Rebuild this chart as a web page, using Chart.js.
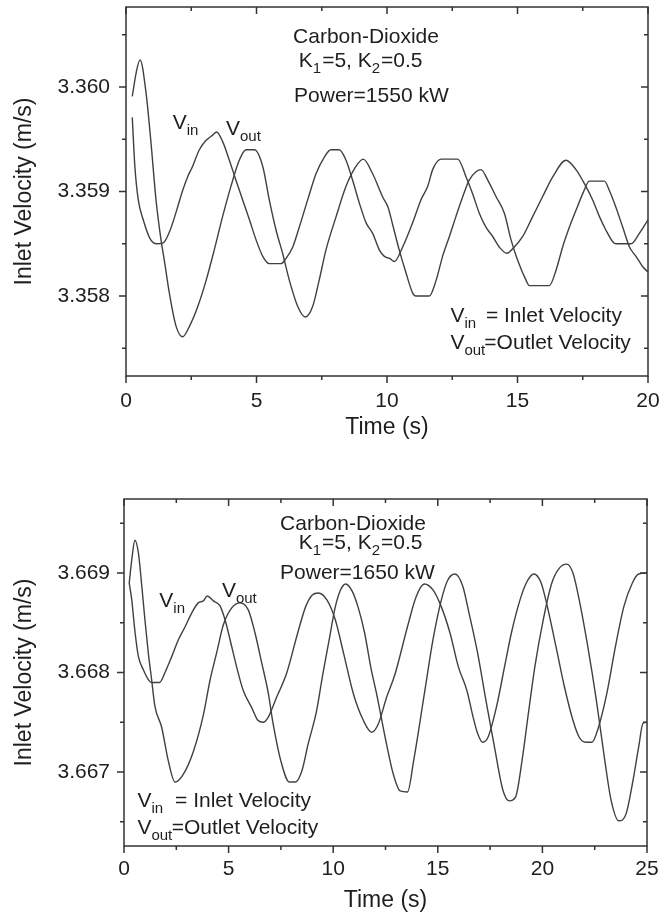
<!DOCTYPE html>
<html>
<head>
<meta charset="utf-8">
<script src="https://cdn.jsdelivr.net/npm/chart.js@4.4.1/dist/chart.umd.min.js"></script>
<style>
  html, body { margin: 0; padding: 0; background: #fff; }
  #wrap { position: relative; width: 665px; height: 918px; }
  canvas { position: absolute; left: 0; }
  #c1 { top: 0; }
  #c2 { top: 460px; }
</style>
</head>
<body>
<div id="wrap">
  <canvas id="c1" width="665" height="460"></canvas>
  <canvas id="c2" width="665" height="458"></canvas>
</div>
<script>
// ---- upper panel: Power = 1550 kW ----
const timeVinA = [0.24, 0.34, 0.47, 0.66, 0.92, 1.18, 1.43, 1.69, 1.94, 2.17, 2.36, 2.55, 2.81, 3.07, 3.32,
  3.47, 3.7, 3.96, 4.21, 4.47, 4.73, 4.98, 5.24, 5.49, 5.94, 6.13, 6.39, 6.64, 6.96, 7.28,
  7.6, 7.85, 8.17, 8.43, 8.68, 8.94, 9.2, 9.45, 9.71, 9.9, 10.1, 10.28, 10.6, 10.98, 11.3,
  11.56, 11.75, 12.07, 12.71, 13.03, 13.28, 13.54, 13.79, 14.05, 14.3, 14.59, 14.88, 15.2, 15.58, 15.96,
  16.35, 16.86, 17.24, 17.62, 17.88, 18.14, 18.39, 18.65, 18.77, 19.35, 19.67, 20.0];
const vinA = [3.35971, 3.35924, 3.35892, 3.35873, 3.35855, 3.3585, 3.35851, 3.35863, 3.35882, 3.35901,
  3.35914, 3.35924, 3.3594, 3.35949, 3.35954, 3.35957, 3.35948, 3.3593, 3.35911, 3.35892,
  3.35873, 3.35854, 3.35838, 3.35831, 3.35831, 3.35836, 3.35847, 3.35866, 3.35892, 3.35917,
  3.35933, 3.3594, 3.3594, 3.3593, 3.35911, 3.35889, 3.3587, 3.3586, 3.35844, 3.35838,
  3.35836, 3.35833, 3.35847, 3.3587, 3.35892, 3.35905, 3.35921, 3.35931, 3.35931, 3.35914,
  3.35898, 3.35879, 3.35866, 3.35857, 3.35847, 3.35841, 3.35847, 3.35857, 3.35876, 3.35895,
  3.35914, 3.3593, 3.35921, 3.35905, 3.35892, 3.35876, 3.35863, 3.35852, 3.3585, 3.3585,
  3.3586, 3.35873];
const timeVoutA = [0.24, 0.4, 0.54, 0.77, 0.96, 1.15, 1.34, 1.47, 1.66, 1.92, 2.17, 2.43, 2.75, 3.07, 3.38,
  3.7, 4.02, 4.34, 4.6, 4.92, 5.24, 5.49, 5.75, 6.0, 6.26, 6.58, 6.87, 7.15, 7.4, 7.66,
  8.05, 8.43, 8.81, 9.09, 9.45, 9.83, 10.04, 10.22, 10.47, 10.73, 10.98, 11.11, 11.62, 11.88, 12.13,
  12.39, 12.64, 12.9, 13.15, 13.41, 13.6, 13.86, 14.18, 14.5, 14.75, 15.01, 15.33, 15.45, 16.22, 16.48,
  16.73, 16.99, 17.24, 17.5, 17.75, 18.33, 18.52, 18.77, 19.03, 19.29, 19.54, 19.8, 20.0];
const voutA = [3.35991, 3.36015, 3.36026, 3.35994, 3.35946, 3.35892, 3.35854, 3.35834, 3.35803, 3.35771,
  3.35761, 3.35771, 3.3579, 3.35815, 3.35844, 3.35876, 3.35905, 3.3593, 3.3594, 3.3594,
  3.35924, 3.35892, 3.35863, 3.35841, 3.35815, 3.3579, 3.3578, 3.3579, 3.35815, 3.35844,
  3.35876, 3.35905, 3.35924, 3.35931, 3.35917, 3.35895, 3.35885, 3.35868, 3.35844, 3.35822,
  3.35803, 3.358, 3.358, 3.35815, 3.35838, 3.35857, 3.35876, 3.35895, 3.35911, 3.35919,
  3.35921, 3.35911, 3.35895, 3.35879, 3.35854, 3.35834, 3.35815, 3.3581, 3.3581, 3.35825,
  3.35847, 3.35866, 3.35882, 3.35898, 3.3591, 3.3591, 3.35901, 3.35885, 3.35866, 3.35847,
  3.35838, 3.35828, 3.35823];
const xTicksA = [0, 5, 10, 15, 20];
const xMinorA = [2.5, 7.5, 12.5, 17.5];
const yTicksA = [3.358, 3.359, 3.360];
const yMinorA = [3.3575, 3.3585, 3.3595, 3.3605];

// ---- lower panel: Power = 1650 kW ----
const timeVinB = [0.25, 0.37, 0.53, 0.69, 0.92, 1.16, 1.3, 1.7, 1.96, 2.28, 2.6, 2.92, 3.24, 3.55, 3.79,
  3.98, 4.27, 4.59, 4.83, 5.07, 5.38, 5.7, 6.1, 6.4, 6.65, 6.89, 7.29, 7.77, 8.28, 8.68,
  9.0, 9.29, 9.7, 10.1, 10.5, 10.96, 11.44, 11.84, 12.15, 12.55, 12.95, 13.55, 13.96, 14.36, 14.77,
  15.17, 15.58, 15.98, 16.39, 16.69, 16.9, 17.14, 17.4, 17.81, 18.22, 18.52, 18.93, 19.23, 19.59, 19.94,
  20.24, 20.65, 21.05, 21.46, 21.76, 22.07, 22.37, 22.68, 23.08, 23.49, 23.89, 24.3, 24.6, 25.0];
const vinB = [3.6689, 3.66873, 3.6684, 3.66816, 3.66803, 3.66793, 3.6679, 3.6679, 3.668, 3.66816,
  3.66833, 3.66846, 3.6686, 3.6687, 3.66872, 3.66877, 3.66872, 3.66867, 3.66853, 3.66833,
  3.66806, 3.66782, 3.66765, 3.66752, 3.6675, 3.66755, 3.66775, 3.66799, 3.66838, 3.66866,
  3.66878, 3.6688, 3.66873, 3.66853, 3.66819, 3.66779, 3.66752, 3.6674, 3.66748, 3.66775,
  3.66798, 3.66846, 3.66876, 3.66889, 3.66883, 3.66866, 3.6684, 3.66806, 3.66782, 3.66755,
  3.66739, 3.6673, 3.66735, 3.66766, 3.66809, 3.6684, 3.66873, 3.6689, 3.66899, 3.6689,
  3.66866, 3.66826, 3.66786, 3.66752, 3.66735, 3.6673, 3.6673, 3.66745, 3.66779, 3.66826,
  3.66866, 3.6689, 3.66899, 3.669];
const timeVoutB = [0.25, 0.38, 0.52, 0.69, 0.85, 1.0, 1.16, 1.32, 1.48, 1.8, 2.12, 2.44, 2.84, 3.32, 3.8,
  4.11, 4.43, 4.75, 5.15, 5.55, 5.94, 6.26, 6.58, 6.9, 7.1, 7.5, 7.9, 8.2, 8.5, 8.8,
  9.2, 9.5, 9.8, 10.1, 10.35, 10.6, 10.9, 11.2, 11.5, 11.8, 12.07, 12.55, 12.87, 13.2, 13.55,
  13.85, 14.36, 14.77, 15.17, 15.48, 15.82, 16.19, 16.49, 16.9, 17.3, 17.71, 18.11, 18.42, 18.72, 19.03,
  19.33, 19.64, 20.04, 20.45, 20.81, 21.16, 21.46, 21.76, 22.17, 22.58, 22.98, 23.29, 23.65, 24.0, 24.3,
  24.6, 24.81, 25.0];
const voutB = [3.6689, 3.66915, 3.66933, 3.6692, 3.66887, 3.66853, 3.6682, 3.66793, 3.66766, 3.66745,
  3.66711, 3.6669, 3.66698, 3.66721, 3.66758, 3.66792, 3.6682, 3.66848, 3.66865, 3.6687,
  3.66863, 3.6684, 3.6681, 3.66779, 3.66752, 3.66711, 3.6669, 3.6669, 3.66701, 3.66728,
  3.66761, 3.66798, 3.66832, 3.66866, 3.66883, 3.66889, 3.66882, 3.66865, 3.6684, 3.66805,
  3.66779, 3.66728, 3.66698, 3.66681, 3.6668, 3.66712, 3.66779, 3.66833, 3.66873, 3.66893,
  3.66899, 3.66887, 3.6686, 3.6682, 3.66772, 3.66725, 3.66682, 3.66671, 3.66675, 3.66712,
  3.66759, 3.66806, 3.66853, 3.6689, 3.66905, 3.66909, 3.669, 3.66873, 3.66826, 3.66772,
  3.66712, 3.66671, 3.66651, 3.66658, 3.66688, 3.66725, 3.66749, 3.6675];
const xTicksB = [0, 5, 10, 15, 20, 25];
const xMinorB = [2.5, 7.5, 12.5, 17.5, 22.5];
const yTicksB = [3.667, 3.668, 3.669];
const yMinorB = [3.6665, 3.6675, 3.6685, 3.6695];

const FONT = "'Liberation Sans', Arial, Helvetica, sans-serif";
const INK = '#1e1e1e';
const CURVE = '#404040';

function pts(ts, vs) { return ts.map((t, i) => ({ x: t, y: vs[i] })); }

// box round the plot, ticks out on left/bottom, in on top/right
const framePlugin = {
  id: 'frame',
  afterDraw(chart) {
    const o = chart.options.plugins.frame;
    const { ctx, chartArea: a, scales: { x, y } } = chart;
    ctx.save();
    ctx.strokeStyle = '#333';
    ctx.lineWidth = 1.5;
    ctx.strokeRect(a.left, a.top, a.right - a.left, a.bottom - a.top);
    ctx.beginPath();
    const xt = (vals, len) => vals.forEach(v => {
      const px = x.getPixelForValue(v);
      ctx.moveTo(px, a.bottom); ctx.lineTo(px, a.bottom + len);
      ctx.moveTo(px, a.top); ctx.lineTo(px, a.top + len);
    });
    const yt = (vals, len) => vals.forEach(v => {
      const py = y.getPixelForValue(v);
      ctx.moveTo(a.left - len, py); ctx.lineTo(a.left, py);
      ctx.moveTo(a.right - len, py); ctx.lineTo(a.right, py);
    });
    xt(o.xMajor, 7); xt(o.xMinor, 4);
    yt(o.yMajor, 7); yt(o.yMinor, 4);
    ctx.stroke();
    ctx.restore();
  }
};

// text placed in data coordinates, with subscripts
const notesPlugin = {
  id: 'notes',
  afterDatasetsDraw(chart) {
    const notes = chart.options.plugins.notes.items;
    const { ctx, scales: { x, y } } = chart;
    ctx.save();
    ctx.fillStyle = INK;
    ctx.textBaseline = 'alphabetic';
    ctx.textAlign = 'left';
    notes.forEach(n => {
      let px = x.getPixelForValue(n.t);
      const py = y.getPixelForValue(n.v);
      n.segs.forEach(([s, sub]) => {
        ctx.font = (sub ? '15px ' : '21px ') + FONT;
        ctx.fillText(s, px, sub ? py + 6 : py);
        px += ctx.measureText(s).width + (sub ? 1 : 0);
      });
    });
    ctx.restore();
  }
};

function makePanel(canvas, p) {
  return new Chart(canvas, {
    type: 'line',
    data: {
      datasets: [
        { label: 'Vin', data: pts(p.tin, p.vin) },
        { label: 'Vout', data: pts(p.tout, p.vout) }
      ]
    },
    options: {
      responsive: false,
      animation: false,
      events: [],
      layout: { padding: p.pad },
      elements: {
        point: { radius: 0 },
        line: { borderColor: CURVE, borderWidth: 1.4, cubicInterpolationMode: 'monotone', fill: false }
      },
      plugins: {
        legend: { display: false },
        tooltip: { enabled: false },
        frame: { xMajor: p.xTicks, xMinor: p.xMinor, yMajor: p.yTicks, yMinor: p.yMinor },
        notes: { items: p.notes }
      },
      scales: {
        x: {
          type: 'linear', min: 0, max: p.xMax,
          afterBuildTicks: s => { s.ticks = p.xTicks.map(v => ({ value: v })); },
          afterFit: s => { s.height = p.xH; s.paddingLeft = 0; s.paddingRight = 0; },
          grid: { display: false, drawTicks: false },
          border: { display: false },
          ticks: { color: INK, font: { family: FONT, size: 21 }, padding: p.xPad, maxRotation: 0, autoSkip: false,
                   callback: v => String(v) },
          title: { display: true, text: 'Time (s)', color: INK, font: { family: FONT, size: 23 },
                   padding: { top: 0, bottom: p.xTitlePad } }
        },
        y: {
          type: 'linear', min: p.yMin, max: p.yMax,
          afterBuildTicks: s => { s.ticks = p.yTicks.map(v => ({ value: v })); },
          afterFit: s => { s.width = p.yW; s.paddingTop = 0; s.paddingBottom = 0; },
          grid: { display: false, drawTicks: false },
          border: { display: false },
          ticks: { color: INK, font: { family: FONT, size: 21 }, padding: p.yPad, autoSkip: false,
                   callback: v => v.toFixed(3) },
          title: { display: true, text: 'Inlet Velocity (m/s)', color: INK, font: { family: FONT, size: 23 },
                   padding: { top: 11, bottom: 0 } }
        }
      }
    },
    plugins: [framePlugin, notesPlugin]
  });
}

makePanel(document.getElementById('c1'), {
  tin: timeVinA, vin: vinA, tout: timeVoutA, vout: voutA,
  xTicks: xTicksA, xMinor: xMinorA, yTicks: yTicksA, yMinor: yMinorA,
  xMax: 20, yMin: 3.357235, yMax: 3.360766,
  pad: { top: 7, right: 17, left: 0, bottom: 0 },
  xH: 84, yW: 126, xPad: 13, yPad: 16, xTitlePad: 19,
  notes: [
    { t: 6.4, v: 3.36042, segs: [['Carbon-Dioxide', 0]] },
    { t: 6.62, v: 3.36019, segs: [['K', 0], ['1', 1], ['=5, K', 0], ['2', 1], ['=0.5', 0]] },
    { t: 6.44, v: 3.35986, segs: [['Power=1550 kW', 0]] },
    { t: 1.79, v: 3.3596, segs: [['V', 0], ['in', 1]] },
    { t: 3.83, v: 3.35954, segs: [['V', 0], ['out', 1]] },
    { t: 12.43, v: 3.35775, segs: [['V', 0], ['in', 1]] },
    { t: 13.79, v: 3.35775, segs: [['= Inlet Velocity', 0]] },
    { t: 12.43, v: 3.35749, segs: [['V', 0], ['out', 1]] },
    { t: 13.73, v: 3.35749, segs: [['=Outlet Velocity', 0]] }
  ]
});

makePanel(document.getElementById('c2'), {
  tin: timeVinB, vin: vinB, tout: timeVoutB, vout: voutB,
  xTicks: xTicksB, xMinor: xMinorB, yTicks: yTicksB, yMinor: yMinorB,
  xMax: 25, yMin: 3.666257, yMax: 3.669744,
  pad: { top: 39, right: 18, left: 0, bottom: 0 },
  xH: 72, yW: 124, xPad: 11, yPad: 14, xTitlePad: 4,
  notes: [
    { t: 7.46, v: 3.66943, segs: [['Carbon-Dioxide', 0]] },
    { t: 8.35, v: 3.66924, segs: [['K', 0], ['1', 1], ['=5, K', 0], ['2', 1], ['=0.5', 0]] },
    { t: 7.46, v: 3.66894, segs: [['Power=1650 kW', 0]] },
    { t: 1.69, v: 3.66866, segs: [['V', 0], ['in', 1]] },
    { t: 4.68, v: 3.66876, segs: [['V', 0], ['out', 1]] },
    { t: 0.64, v: 3.66665, segs: [['V', 0], ['in', 1]] },
    { t: 2.44, v: 3.66665, segs: [['= Inlet Velocity', 0]] },
    { t: 0.64, v: 3.66638, segs: [['V', 0], ['out', 1]] },
    { t: 2.28, v: 3.66638, segs: [['=Outlet Velocity', 0]] }
  ]
});
</script>
</body>
</html>
